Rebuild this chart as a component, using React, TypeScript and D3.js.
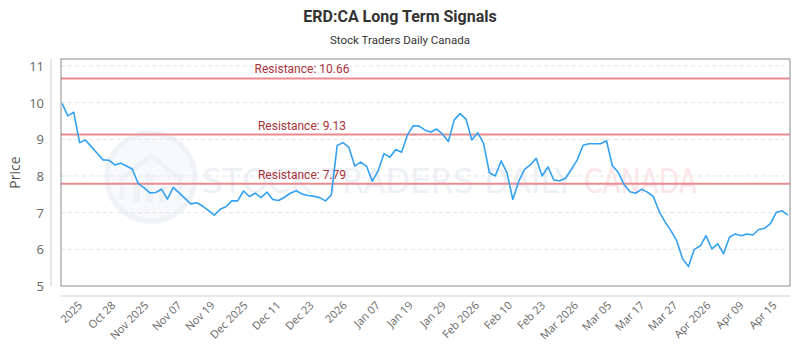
import React from "react";
import * as d3 from "d3";

// daily closes, oldest first
const prices = [
  9.98, 9.64, 9.74, 8.91, 8.98, 8.8, 8.62, 8.44, 8.43, 8.3,
  8.35, 8.27, 8.19, 7.8, 7.68, 7.54, 7.55, 7.64, 7.37, 7.69,
  7.54, 7.39, 7.24, 7.27, 7.18, 7.06, 6.93, 7.09, 7.16, 7.32,
  7.32, 7.59, 7.44, 7.53, 7.41, 7.56, 7.36, 7.33, 7.42, 7.53,
  7.6, 7.51, 7.47, 7.45, 7.41, 7.32, 7.48, 8.83, 8.91, 8.78,
  8.27, 8.38, 8.27, 7.86, 8.14, 8.61, 8.51, 8.72, 8.65, 9.12,
  9.37, 9.36, 9.25, 9.2, 9.28, 9.14, 8.94, 9.53, 9.7, 9.55,
  8.98, 9.18, 8.89, 8.09, 8.0, 8.41, 8.09, 7.36, 7.85, 8.18,
  8.3, 8.48, 8.0, 8.25, 7.89, 7.87, 7.94, 8.18, 8.44, 8.84,
  8.88, 8.88, 8.88, 8.96, 8.28, 8.1, 7.77, 7.57, 7.53, 7.64,
  7.56, 7.44, 7.03, 6.75, 6.51, 6.23, 5.74, 5.53, 6.0, 6.09,
  6.37, 6.01, 6.15, 5.88, 6.33, 6.42, 6.37, 6.42, 6.39, 6.54,
  6.57, 6.7, 7.01, 7.05, 6.93,
];

const resistanceLevels = [10.66, 9.13, 7.79];

const tickLabels = [
  "2025", "Oct 28", "Nov 2025", "Nov 07", "Nov 19", "Dec 2025", "Dec 11",
  "Dec 23", "2026", "Jan 07", "Jan 19", "Jan 29", "Feb 2026", "Feb 10",
  "Feb 23", "Mar 2026", "Mar 05", "Mar 17", "Mar 27", "Apr 2026", "Apr 09",
  "Apr 15",
];

const yTicks = [5, 6, 7, 8, 9, 10, 11];

const W = 800;
const H = 350;
const box = { left: 61, right: 790, top: 59, bottom: 286 };

export default function App() {
  const x = d3
    .scaleLinear()
    .domain([0, prices.length - 1])
    .range([box.left + 1, box.right - 2]);
  const y = d3.scaleLinear().domain([5, 11.19]).range([box.bottom, box.top]);

  // labels sit on an evenly spaced calendar grid across the data span
  const labelPos = d3
    .scalePoint()
    .domain(tickLabels)
    .range([x(3.6), x(122.2)]);

  const line = d3
    .line<number>()
    .x((d, i) => x(i))
    .y((d) => y(d));

  return (
    <svg
      width={W}
      height={H}
      style={{ position: "absolute", left: 0, top: 0 }}
    >
      <rect width={W} height={H} fill="#fff" />

      <text
        x={400}
        y={22}
        textAnchor="middle"
        fontFamily="Roboto"
        fontWeight="bold"
        fontSize={16}
        fill="#333"
      >
        ERD:CA Long Term Signals
      </text>
      <text
        x={400}
        y={44}
        textAnchor="middle"
        fontFamily="Roboto"
        fontSize={11.5}
        fill="#333"
      >
        Stock Traders Daily Canada
      </text>

      {/* watermark */}
      <g opacity={0.4}>
        <circle cx={151} cy={177} r={44} fill="#eef2f8" stroke="#d9e1ec" strokeWidth={5} />
        <path d="M122,200 L122,178 L151,156 L180,178 L180,200" fill="none" stroke="#d9e1ec" strokeWidth={5} />
        <rect x={133} y={182} width={7} height={20} fill="#d9e1ec" />
        <rect x={146} y={174} width={7} height={28} fill="#d9e1ec" />
        <rect x={159} y={186} width={7} height={16} fill="#d9e1ec" />
        <text
          x={202}
          y={193}
          fontFamily="DejaVu Sans"
          fontSize={34}
          textLength={372}
          lengthAdjust="spacingAndGlyphs"
          fill="#d3dbe7"
        >
          STOCK TRADERS DAILY
        </text>
        <text
          x={584}
          y={193}
          fontFamily="DejaVu Sans"
          fontSize={34}
          textLength={113}
          lengthAdjust="spacingAndGlyphs"
          fill="#f6c3c9"
        >
          CANADA
        </text>
      </g>

      {/* grid */}
      {yTicks.slice(1).map((t) => (
        <line
          key={t}
          x1={box.left}
          x2={box.right - 6}
          y1={y(t)}
          y2={y(t)}
          stroke="#e4e4e4"
          strokeDasharray="4,3"
        />
      ))}

      {resistanceLevels.map((r) => (
        <g key={r}>
          <line
            x1={box.left}
            x2={box.right}
            y1={y(r)}
            y2={y(r)}
            stroke="#ec8a8f"
            strokeWidth={2}
          />
          <text
            x={302}
            y={y(r) - 5}
            textAnchor="middle"
            fontFamily="Roboto"
            fontSize={12}
            fill="#a8323a"
          >
            Resistance: {r}
          </text>
        </g>
      ))}

      <path d={line(prices) || ""} fill="none" stroke="#33a1f2" strokeWidth={1.6} strokeLinejoin="round" />

      {/* plot frame */}
      <rect
        x={box.left}
        y={box.top}
        width={box.right - box.left}
        height={box.bottom - box.top}
        fill="none"
        stroke="#8c8c8c"
      />

      {/* y axis */}
      <line x1={51} x2={51} y1={box.top} y2={box.bottom} stroke="#cfcfcf" />
      {yTicks.map((t) => (
        <text
          key={t}
          x={44}
          y={y(t) + 5}
          textAnchor="end"
          fontFamily="Open Sans"
          fontSize={13}
          fill="#666"
        >
          {t}
        </text>
      ))}
      <text
        transform={`translate(20,${(box.top + box.bottom) / 2}) rotate(-90)`}
        textAnchor="middle"
        fontFamily="Open Sans"
        fontSize={14}
        fill="#555"
      >
        Price
      </text>

      {/* x axis */}
      <line x1={box.left} x2={box.right} y1={296} y2={296} stroke="#cfcfcf" />
      {tickLabels.map((l) => (
        <text
          key={l}
          transform={`translate(${labelPos(l)},${306}) rotate(-45)`}
          textAnchor="end"
          fontFamily="Open Sans"
          fontSize={11}
          fill="#666"
        >
          {l}
        </text>
      ))}
    </svg>
  );
}
